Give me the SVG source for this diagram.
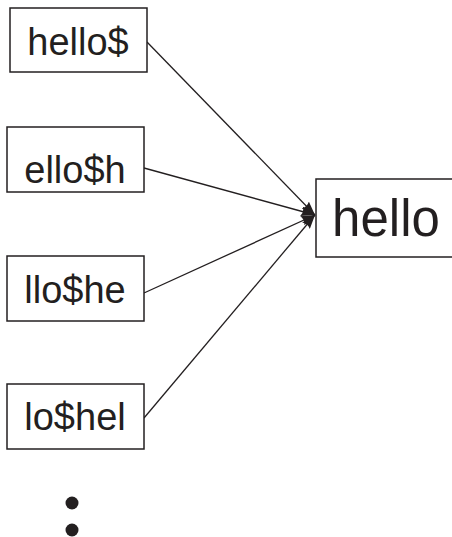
<svg xmlns="http://www.w3.org/2000/svg" width="452" height="537" viewBox="0 0 452 537">
<style>
.box{fill:#fff;stroke:#231f20;stroke-width:1.5}
.t{font-family:"Liberation Sans",Arial,sans-serif;fill:#231f20;text-anchor:middle}
.s{font-size:38px}
.b{font-size:51px}
.c{stroke:#231f20;stroke-width:1.3;fill:none;marker-end:url(#ah)}
</style>
<defs>
<marker id="ah" viewBox="0 0 14 10" refX="14" refY="5" markerWidth="14" markerHeight="10" markerUnits="userSpaceOnUse" orient="auto">
<path d="M0,0 L14,5 L0,10 Q3,5 0,0 Z" fill="#231f20"/>
</marker>
</defs>
<rect width="452" height="537" fill="#fff"/>
<g id="connectors">
<line class="c" x1="147" y1="42" x2="315" y2="215"/>
<line class="c" x1="144" y1="168" x2="315" y2="215"/>
<line class="c" x1="144" y1="293" x2="315" y2="215"/>
<line class="c" x1="144" y1="418" x2="315" y2="215"/>
</g>
<g id="n1"><rect class="box" x="10" y="8" width="137" height="64"/><text class="t s" x="78" y="55">hello$</text></g>
<g id="n2"><rect class="box" x="7" y="127" width="137" height="65"/><text class="t s" x="75" y="183">ello$h</text></g>
<g id="n3"><rect class="box" x="7" y="256" width="137" height="65"/><text class="t s" x="75" y="303">llo$he</text></g>
<g id="n4"><rect class="box" x="7" y="384" width="137" height="65"/><text class="t s" x="75" y="430">lo$hel</text></g>
<g id="n5"><rect class="box" x="316" y="179" width="140" height="78"/><text class="t b" x="386" y="236">hello</text></g>
<g id="dots" fill="#231f20"><circle cx="72" cy="503" r="6.5"/><circle cx="72" cy="530" r="6.5"/></g>
</svg>
